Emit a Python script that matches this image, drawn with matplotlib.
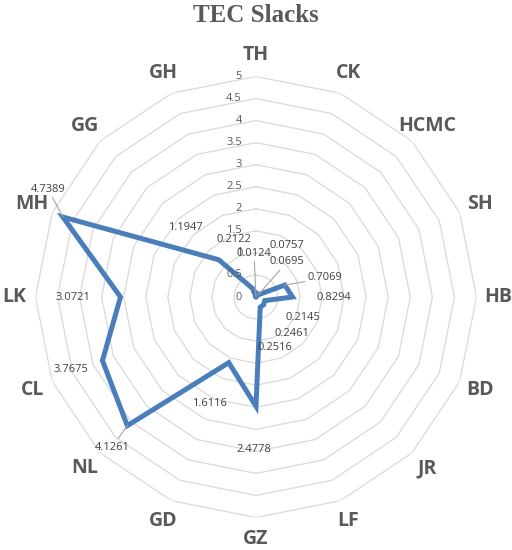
import matplotlib.pyplot as plt
import numpy as np

categories = ["TH", "CK", "HCMC", "SH", "HB", "BD", "JR", "LF",
              "GZ", "GD", "NL", "CL", "LK", "MH", "GG", "GH"]
slacks = [0.0124, 0.0757, 0.0695, 0.7069, 0.8294, 0.2145, 0.2461, 0.2516,
          2.4778, 1.6116, 4.1261, 3.7675, 3.0721, 4.7389, 1.1947, 0.2122]
ring_levels = [0.5, 1, 1.5, 2, 2.5, 3, 3.5, 4, 4.5, 5]
tick_values = [0, 0.5, 1, 1.5, 2, 2.5, 3, 3.5, 4, 4.5, 5]
tick_labels = ["0", "0.5", "1", "1.5", "2", "2.5", "3", "3.5", "4", "4.5", "5"]

# where the value labels sit (figure pixels, measured from the top)
label_pos = [(254, 253), (287, 245), (287, 262), (325, 278), (334, 297),
             (303, 317), (292, 334), (275, 347), (254, 449), (209, 403),
             (112, 447), (71, 369), (73, 297), (48, 189), (185, 228),
             (234, 240)]
with_leader = [0, 2, 3, 10, 13]

W, H = 512, 550
grey = "#595959"
blue = "#4A7EBB"

fig = plt.figure(figsize=(W / 100, H / 100), dpi=100)
ax = fig.add_axes([0.0693, 0.0591, 0.8613, 0.8018], projection="polar")
ax.set_theta_zero_location("N")
ax.set_theta_direction(-1)
ax.set_ylim(0, 5)
ax.set_axis_off()

n = len(categories)
angles = np.linspace(0, 2 * np.pi, n, endpoint=False)
closed = np.append(angles, angles[0])

for lev in ring_levels:
    ax.plot(closed, [lev] * (n + 1), color="#D9D9D9", lw=0.9, zorder=1)

vals = np.append(slacks, slacks[0])
ax.plot(closed, vals, color=blue, lw=3.6, solid_joinstyle="miter", zorder=3)

for v, t in zip(tick_values, tick_labels):
    ax.annotate(t, xy=(0, v), xytext=(-14, 0), textcoords="offset pixels",
                ha="right", va="center", fontsize=8, color=grey,
                family="Open Sans")

for a, lab in zip(angles, categories):
    ax.text(a, 5.49, lab, ha="center", va="center", fontsize=14,
            fontweight="bold", color=grey, family="Open Sans", clip_on=False)

for i, (a, v) in enumerate(zip(angles, slacks)):
    px, py = label_pos[i]
    arrow = None
    if i in with_leader:
        arrow = dict(arrowstyle="-", color="#A6A6A6", lw=0.8,
                     shrinkA=0, shrinkB=0)
    ax.annotate(f"{v:.4f}", xy=(a, v), xytext=(px, H - py),
                textcoords="figure pixels", ha="center", va="center",
                fontsize=8, color="#404040", family="Open Sans",
                arrowprops=arrow, zorder=4)

fig.text(0.5, 1 - 16 / H, "TEC Slacks", ha="center", va="center",
         fontsize=18, fontweight="bold", color=grey, family="Liberation Serif")

fig.savefig("out.png", dpi=100)
